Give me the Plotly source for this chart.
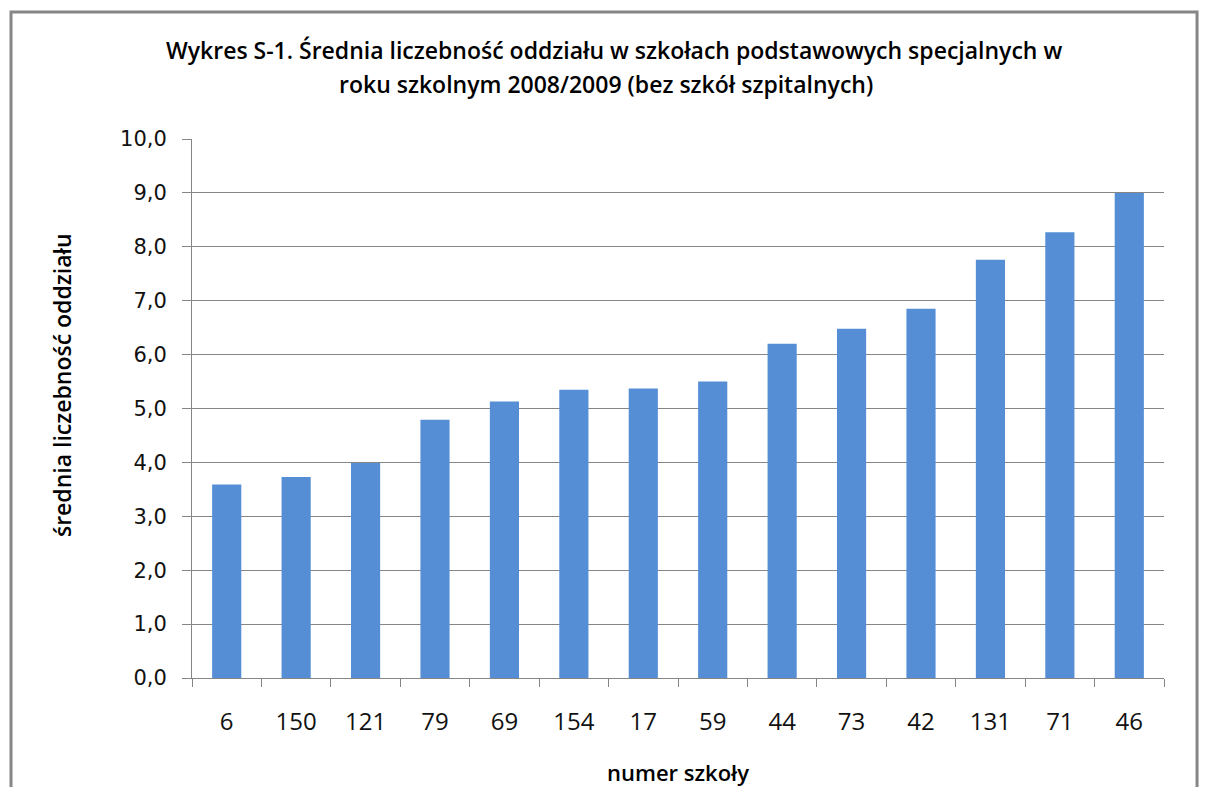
import plotly.graph_objects as go

schools = ["6", "150", "121", "79", "69", "154", "17", "59", "44", "73", "42", "131", "71", "46"]
avg_size = [3.59, 3.73, 3.99, 4.79, 5.13, 5.35, 5.37, 5.50, 6.20, 6.48, 6.85, 7.76, 8.27, 9.00]
y_ticks = [0, 1, 2, 3, 4, 5, 6, 7, 8, 9, 10]

title_line1 = "Wykres S-1. Średnia liczebność oddziału w szkołach podstawowych specjalnych w"
title_line2 = "roku szkolnym 2008/2009 (bez szkół szpitalnych)"
y_title = "średnia liczebność oddziału"
x_title = "numer szkoły"

GRAY = "#868686"
SANS = "Open Sans, Noto Sans, sans-serif"

fig = go.Figure(go.Bar(x=schools, y=avg_size, marker=dict(color="#558ed5", line=dict(width=0)),
                       width=0.42))

fig.update_layout(
    width=1208, height=787,
    margin=dict(l=184, r=52, t=131, b=117),
    paper_bgcolor="white", plot_bgcolor="white",
    separators=", ",
    showlegend=False,
    font=dict(family="DejaVu Sans, sans-serif", color="black"),
)

fig.update_yaxes(range=[0, 10], tickvals=y_ticks, tickformat=".1f",
                 showgrid=True, gridcolor=GRAY, gridwidth=1,
                 showline=True, linecolor=GRAY, linewidth=1,
                 ticks="outside", ticklen=9, tickcolor=GRAY,
                 ticklabelstandoff=11,
                 tickfont=dict(size=21, family="DejaVu Sans, sans-serif", color="#111111"),
                 zeroline=False)

fig.update_xaxes(showline=True, linecolor=GRAY, linewidth=1,
                 ticks="outside", ticklen=8, tickcolor=GRAY, tickson="boundaries",
                 ticklabelstandoff=22,
                 tickfont=dict(size=24, family=SANS, color="#111111"))

fig.add_annotation(text=title_line1, xref="paper", yref="paper", x=0.4342, y=1.1651,
                   xanchor="center", yanchor="middle", showarrow=False,
                   font=dict(size=23, family=SANS, weight=600, color="black"))
fig.add_annotation(text=title_line2, xref="paper", yref="paper", x=0.4259, y=1.1020,
                   xanchor="center", yanchor="middle", showarrow=False,
                   font=dict(size=23, family=SANS, weight=600, color="black"))
fig.add_annotation(text=y_title, xref="paper", yref="paper", x=-0.1337, y=0.5436,
                   xanchor="center", yanchor="middle", showarrow=False, textangle=-90,
                   font=dict(size=23, family=SANS, weight=600, color="black"))
fig.add_annotation(text=x_title, xref="paper", yref="paper", x=0.5, y=-0.1744,
                   xanchor="center", yanchor="middle", showarrow=False,
                   font=dict(size=22, family=SANS, weight=600, color="black"))

fig.add_shape(type="rect", xref="paper", yref="paper",
              x0=-0.1862, x1=1.034, y0=-0.25, y1=1.2356,
              line=dict(color=GRAY, width=3), fillcolor="rgba(0,0,0,0)", layer="below")

fig.write_html("out.html")
